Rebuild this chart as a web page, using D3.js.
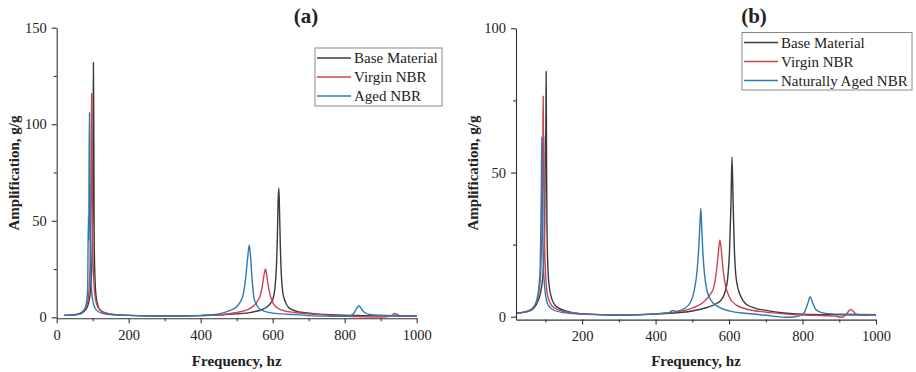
<!DOCTYPE html>
<html><head><meta charset="utf-8">
<script src="https://cdn.jsdelivr.net/npm/d3@7/dist/d3.min.js"></script>
<style>
html,body{margin:0;padding:0;background:#fff;}
svg text{font-family:"Liberation Serif","Times New Roman",serif;fill:#222;}
</style></head>
<body>
<svg id="chart" width="916" height="372"></svg>
<script>
// ---------- DATA ----------
const seriesNamesA = ["Base Material", "Virgin NBR", "Aged NBR"];
const seriesNamesB = ["Base Material", "Virgin NBR", "Naturally Aged NBR"];
const colors = ["#3a3a3a", "#cc4452", "#2f78b3"];

const xTicksMajorA = [0, 200, 400, 600, 800, 1000];
const xTicksMinorA = [100, 300, 500, 700, 900];
const yTicksMajorA = [0, 50, 100, 150];
const yTicksMinorA = [25, 75, 125];
const xTicksMajorB = [200, 400, 600, 800, 1000];
const xTicksMinorB = [100, 300, 500, 700, 900];
const yTicksMajorB = [0, 50, 100];
const yTicksMinorB = [25, 75];

// Panel (a)
const freqA_base = [20,40,60,70,80,88,94,98,100,101,102,103,104,106,110,120,140,160,200,300,400,450,500,540,570,585,595,600,606,610,613,615,617,619,621,624,628,635,645,665,690,720,780,850,950,1000];
const ampA_base  = [1.0,1.1,1.5,2.2,3.8,7,14,30,60,95,132,100,44,22,10,4,2,1.4,1.0,0.7,0.9,1.2,1.8,2.6,4,5.5,7.5,9,15,25,42,60,67,55,38,22,13,8,5,3.2,2.4,1.8,1.2,0.9,0.7,0.6];

const freqA_virgin = [20,40,60,70,80,86,90,93,95,96,97,98,99,101,104,108,115,130,160,200,300,400,450,500,530,550,558,565,571,576,580,584,589,595,602,612,630,660,700,760,800,850,900,930,938,945,952,960,1000];
const ampA_virgin  = [1.0,1.2,1.8,2.8,5,8,15,30,60,90,116,85,55,30,16,9,5,2.5,1.5,1.0,0.6,0.9,1.3,2.5,4,6.5,8.5,11,16,22,25,21,15,10,7,5,3.5,2.5,1.8,1.0,0.6,0.3,0.2,0.8,2.0,1.6,1.0,0.6,0.5];

const freqA_aged = [20,40,60,70,78,83,86,88,89,90,91,92,94,97,100,106,115,130,160,200,300,400,450,480,500,510,517,524,530,535,539,543,548,555,565,580,600,650,700,760,800,815,825,833,840,846,855,870,900,950,1000];
const ampA_aged  = [1.0,1.1,1.6,2.5,4.5,8,15,52,40,80,106,70,30,14,9,5,3,2,1.3,1.0,0.5,1.0,1.8,3.5,5.5,8,11,19,30,37.5,30,19,10,6.5,4.2,3,2.2,1.5,0.9,0.6,0.5,0.8,2,4.5,6,4.5,2.5,1.5,1.1,0.9,0.8];

// Panel (b)
const freqB_base = [20,40,60,70,80,88,94,98,100,101,102,103,104,106,110,118,130,160,200,300,400,450,500,540,565,580,590,596,601,605,608,611,614,618,624,632,645,670,700,750,800,900,1000];
const ampB_base  = [1.2,1.5,2.2,3.2,5.5,9,16,30,62,63,85,60,36,20,11,6,3.5,1.8,1.0,0.6,0.9,1.3,2,3.2,4.5,6,9,13,22,38,55.4,40,25,15,10,7,4.5,3,2.2,1.3,0.9,0.7,0.6];

const freqB_virgin = [20,40,60,70,78,84,88,91,93,94,95,96,98,101,105,112,125,150,200,300,400,450,500,530,550,558,565,570,575,579,584,590,600,620,650,700,750,800,850,890,905,915,925,931,937,945,960,1000];
const ampB_virgin  = [1.2,1.6,2.5,3.8,6,10,18,35,60,76.5,60,40,24,14,8,5,3,1.8,1.0,0.6,1.0,1.6,3,5,8,10,15,21,26.6,23,16,11,7,4,2.6,1.6,1.0,0.6,0.4,0.2,-0.2,0.3,1.8,2.5,2,1,0.6,0.6];

const freqB_aged = [20,40,60,70,77,82,86,88,89,90,91,92,94,97,101,108,120,150,200,300,400,440,446,455,480,495,505,513,518,521,523,525,528,533,540,552,570,600,650,700,760,790,805,814,821,827,836,850,880,950,1000];
const ampB_aged  = [1.2,1.5,2.3,3.5,6,10,18,35,45,62.3,50,35,20,12,7,4,2.5,1.4,0.9,0.5,1.0,1.6,2.2,1.8,3,5,9,16,25,33,37.5,33,24,15,9,5.5,3.5,2,1.1,0.5,-0.2,0.2,1.5,4.5,6.9,5,2.5,1.5,1,0.8,0.7];

// ---------- DRAWING ----------
const svg = d3.select("#chart");

function zip(f, a) { return f.map((v, i) => ({ f: v, a: a[i] })); }

function panel(cfg) {
  const g = svg.append("g");
  const x = d3.scaleLinear().domain(cfg.xDomain).range(cfg.xRange);
  const y = d3.scaleLinear().domain(cfg.yDomain).range(cfg.yRange);

  // curves
  const line = d3.line().x(d => x(d.f)).y(d => y(d.a)).curve(d3.curveMonotoneX);
  cfg.series.forEach((s, i) => {
    g.append("path").datum(s).attr("d", line)
      .attr("fill", "none").attr("stroke", colors[i])
      .attr("stroke-width", 1.4).attr("stroke-linejoin", "round");
  });

  // axes
  const axColor = "#333";
  g.append("g").attr("transform", `translate(0,${cfg.yRange[0]})`)
    .call(d3.axisBottom(x).tickValues(cfg.xMajor).tickSize(5).tickSizeOuter(0).tickPadding(6).tickFormat(d3.format("d")));
  g.append("g").attr("transform", `translate(0,${cfg.yRange[0]})`)
    .call(d3.axisBottom(x).tickValues(cfg.xMinor).tickSize(3).tickSizeOuter(0).tickFormat(""))
    .select(".domain").remove();
  g.append("g").attr("transform", `translate(${cfg.xRange[0]},0)`)
    .call(d3.axisLeft(y).tickValues(cfg.yMajor).tickSize(5).tickSizeOuter(0).tickPadding(5).tickFormat(d3.format("d")));
  g.append("g").attr("transform", `translate(${cfg.xRange[0]},0)`)
    .call(d3.axisLeft(y).tickValues(cfg.yMinor).tickSize(3).tickSizeOuter(0).tickFormat(""))
    .select(".domain").remove();

  g.selectAll(".domain, .tick line").attr("stroke", axColor).attr("stroke-width", 1.1);
  g.selectAll(".tick text").attr("font-family", "'Liberation Serif', serif")
    .attr("font-size", 14.5).attr("fill", "#222");

  // titles
  g.append("text").attr("x", cfg.titleX).attr("y", 23).attr("text-anchor", "middle")
    .attr("font-size", 21).attr("font-weight", "bold").text(cfg.title);
  g.append("text").attr("x", (cfg.xRange[0] + cfg.xRange[1]) / 2).attr("y", 366)
    .attr("text-anchor", "middle").attr("font-size", 15).attr("font-weight", "bold")
    .text("Frequency, hz");
  g.append("text").attr("transform", `translate(${cfg.yLabelX},${173}) rotate(-90)`)
    .attr("text-anchor", "middle").attr("font-size", 15).attr("font-weight", "bold")
    .text("Amplification, g/g");

  // legend
  const L = cfg.legend;
  g.append("rect").attr("x", L.x).attr("y", L.y).attr("width", L.w).attr("height", L.h)
    .attr("fill", "#fff").attr("stroke", "#8a8a8a").attr("stroke-width", 1);
  cfg.names.forEach((n, i) => {
    const cy = L.y + 10 + i * 19;
    g.append("line").attr("x1", L.x + 2).attr("x2", L.x + 36).attr("y1", cy).attr("y2", cy)
      .attr("stroke", colors[i]).attr("stroke-width", 1.4);
    g.append("text").attr("x", L.x + 39).attr("y", cy + 5).attr("font-size", 15).text(n);
  });
}

panel({
  xDomain: [0, 1000], xRange: [56.7, 416.7],
  yDomain: [-0.5, 150], yRange: [318.3, 27.7],
  xMajor: xTicksMajorA, xMinor: xTicksMinorA, yMajor: yTicksMajorA, yMinor: yTicksMinorA,
  series: [zip(freqA_base, ampA_base), zip(freqA_virgin, ampA_virgin), zip(freqA_aged, ampA_aged)],
  names: seriesNamesA, title: "(a)", titleX: 306, yLabelX: 19,
  legend: { x: 315, y: 48, w: 127, h: 58 }
});

panel({
  xDomain: [20, 1000], xRange: [516, 876],
  yDomain: [-1, 100], yRange: [319.6, 28.3],
  xMajor: xTicksMajorB, xMinor: xTicksMinorB, yMajor: yTicksMajorB, yMinor: yTicksMinorB,
  series: [zip(freqB_base, ampB_base), zip(freqB_virgin, ampB_virgin), zip(freqB_aged, ampB_aged)],
  names: seriesNamesB, title: "(b)", titleX: 754, yLabelX: 478,
  legend: { x: 742, y: 32.5, w: 170, h: 57.5 }
});
</script>
</body></html>
